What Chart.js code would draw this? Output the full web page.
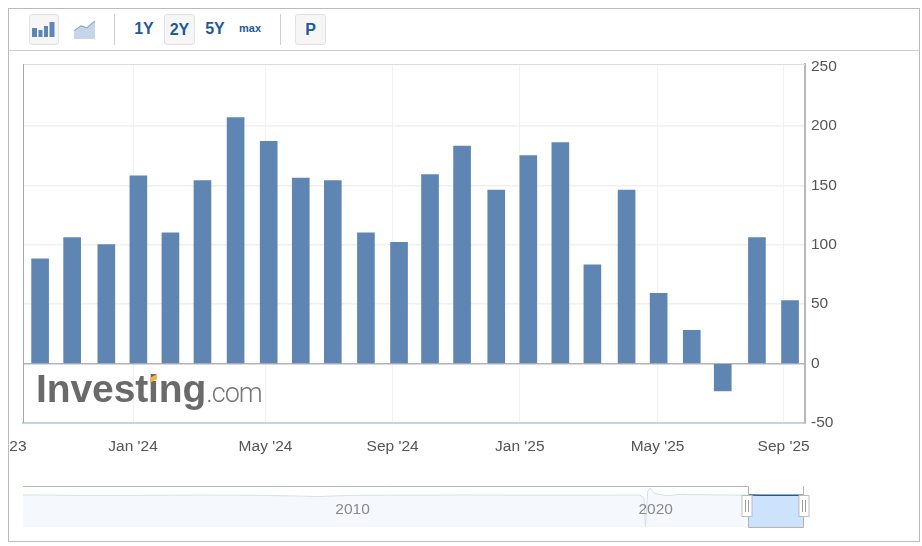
<!DOCTYPE html>
<html lang="en">
<head>
<meta charset="UTF-8">
<title>Investing.com bar chart</title>
<script src="https://cdn.jsdelivr.net/npm/chart.js"></script>
<style>
    html, body { margin: 0; padding: 0; background: #fff; overflow: hidden; }
    body { width: 922px; height: 546px; position: relative; font-family: "Liberation Sans", Arial, sans-serif; }
    #frame { position: absolute; left: 8px; top: 8px; width: 910px; height: 532px; border: 1px solid #bbb; box-sizing: content-box; }
    #toolbarLine { position: absolute; left: 9px; top: 50px; width: 910px; height: 1px; background: #ccc; }
    canvas { position: absolute; display: block; }
    #mainChart { left: 9px; top: 51px; }
    #navChart { left: 9px; top: 478px; }
    .btn { position: absolute; top: 14px; height: 31px; box-sizing: border-box; line-height: 29px; text-align: center; color: #1f5a96; font-weight: bold; font-size: 16px; }
    .on { background: #f6f6f6; border: 1px solid #e2e2e2; border-radius: 3px; }
    .sep { position: absolute; top: 14px; width: 1px; height: 31px; background: #cfcfcf; }
    svg { position: absolute; }
    #logo { position: absolute; left: 36px; top: 367px; white-space: nowrap; color: #6a6a6a; line-height: 50px; }
    #logo b { font: bold 39px "Liberation Sans", Arial, sans-serif; letter-spacing: -0.1px; }
    #logo span { font: 300 27px Roboto, sans-serif; letter-spacing: -1px; color: #767676; }
    #dot { position: absolute; left: 150px; top: 376px; width: 7px; height: 5px; background: #eeb54e; transform: skewY(-25deg); }
</style>
</head>
<body>
<div id="frame"></div>
<div id="toolbarLine"></div>

<div class="btn on" style="left:29px;width:30px"></div>
<svg style="left:32px;top:22px" width="24" height="15" fill="#5f86b3">
    <rect x="0" y="6" width="5" height="9"/><rect x="6.5" y="8" width="4" height="7"/>
    <rect x="12" y="4" width="4" height="11"/><rect x="17.5" y="0" width="5" height="15"/>
</svg>
<svg style="left:73px;top:20px" width="24" height="20">
    <path d="M1 12 L8 7 L14 9 L22 2 L22 19 L1 19 Z" fill="#c6d6e8"/>
    <path d="M1 11 L8 6 L14 8 L22 1" fill="none" stroke="#8fabc9" stroke-width="1.5"/>
</svg>
<div class="sep" style="left:114px"></div>
<div class="btn" style="left:129px;width:30px">1Y</div>
<div class="btn on" style="left:164px;width:31px">2Y</div>
<div class="btn" style="left:200px;width:30px">5Y</div>
<div class="btn" style="left:235px;width:30px;font-size:11px">max</div>
<div class="sep" style="left:280px"></div>
<div class="btn on" style="left:295px;width:31px">P</div>

<canvas id="mainChart" width="909" height="420"></canvas>
<canvas id="navChart" width="909" height="62"></canvas>
<div id="logo"><b>Investing</b><span>.com</span></div>
<div id="dot"></div>

<script>
    const barDates = ['2023-10-06', '2023-11-05', '2023-12-07', '2024-01-06', '2024-02-05', '2024-03-06',
        '2024-04-06', '2024-05-07', '2024-06-06', '2024-07-06', '2024-08-06', '2024-09-06',
        '2024-10-05', '2024-11-04', '2024-12-06', '2025-01-05', '2025-02-04', '2025-03-06',
        '2025-04-07', '2025-05-07', '2025-06-07', '2025-07-06', '2025-08-07', '2025-09-07'];
    const barValues = [88, 106, 100, 158, 110, 154, 207, 187, 156, 154, 110, 102,
        159, 183, 146, 175, 186, 83, 146, 59, 28, -23, 106, 53];

    const yTicks = [-50, 0, 50, 100, 150, 200, 250];
    const xTickDates = ['2023-08-30', '2024-01-01', '2024-05-04', '2024-08-31', '2024-12-28', '2025-05-06', '2025-09-01'];
    const xTickLabels = ["Sep '23", "Jan '24", "May '24", "Sep '24", "Jan '25", "May '25", "Sep '25"];

    // long history shown in the navigator strip
    const navYears = [1999.13, 2000, 2001, 2002, 2003, 2004, 2005, 2006, 2007, 2008, 2008.7, 2009.2, 2009.8,
        2010.5, 2011, 2012, 2013, 2014, 2015, 2016, 2017, 2018, 2019, 2020.1, 2020.25, 2020.3, 2020.38,
        2020.45, 2020.6, 2020.8, 2021, 2021.5, 2022, 2023, 2023.79];
    const navValues = [250, 230, -20, -40, 20, 150, 210, 170, 100, -220, -500, -750, -250,
        50, 130, 180, 190, 250, 220, 190, 180, 200, 170, 230, -1400, -20500, 2700,
        4800, 1400, 600, -200, 600, 500, 250, 180];
    const selYears = [2023.79, 2024.3, 2024.9, 2025.3, 2025.66];
    const selValues = [180, 170, 150, 100, 60];
    const navTickYears = [2009.76, 2020.07];
    const navTickLabels = ['2010', '2020'];

    Chart.defaults.font.family = '"Liberation Sans", Arial, sans-serif';
    Chart.defaults.animation = false;

    const toTime = d => Date.parse(d);

    // left and top edges of the plot, the library only gives the axis side
    const plotEdges = {
        id: 'plotEdges',
        beforeDatasetsDraw(chart) {
            const { ctx, chartArea: a } = chart;
            ctx.save();
            ctx.lineWidth = 1;
            ctx.strokeStyle = '#dcdcdc';
            ctx.beginPath();
            ctx.moveTo(a.left, a.top + 0.5);
            ctx.lineTo(a.right, a.top + 0.5);
            ctx.stroke();
            ctx.strokeStyle = '#a8a8a8';
            ctx.beginPath();
            ctx.moveTo(a.left + 0.5, a.top);
            ctx.lineTo(a.left + 0.5, a.bottom);
            ctx.stroke();
            ctx.restore();
        }
    };

    new Chart(document.getElementById('mainChart'), {
        type: 'bar',
        data: {
            datasets: [{
                data: barDates.map((d, i) => ({ x: toTime(d), y: barValues[i] })),
                backgroundColor: '#5f86b3',
                barThickness: 17
            }]
        },
        options: {
            responsive: false,
            layout: { padding: { left: 14, top: 13, right: 0, bottom: 0 } },
            plugins: { legend: { display: false }, tooltip: { enabled: false } },
            scales: {
                x: {
                    type: 'linear',
                    offset: false,
                    min: toTime('2023-09-20'),
                    max: toTime('2025-09-21'),
                    afterBuildTicks: axis => { axis.ticks = xTickDates.map(d => ({ value: toTime(d) })); },
                    afterFit: axis => { axis.height = 48; axis.paddingLeft = 0; axis.paddingRight = 0; },
                    grid: { offset: false, color: '#f2f2f2', tickLength: 0 },
                    border: { color: '#c8d3da', width: 2 },
                    ticks: {
                        autoSkip: false, maxRotation: 0, padding: 14, color: '#555', font: { size: 15.5 },
                        callback: (v, i) => xTickLabels[i]
                    }
                },
                y: {
                    position: 'right',
                    min: -50,
                    max: 252,
                    afterBuildTicks: axis => { axis.ticks = yTicks.map(v => ({ value: v })); },
                    afterFit: axis => { axis.width = 113; axis.paddingTop = 0; axis.paddingBottom = 0; },
                    grid: {
                        tickLength: 0,
                        lineWidth: 1.5,
                        color: c => {
                            if (!c.tick) return '#f0f0f0';
                            if (c.tick.value === 0) return '#b4b4b4';
                            return c.tick.value === 250 ? 'transparent' : '#f0f0f0';
                        }
                    },
                    border: { color: '#b8b8b8', width: 2 },
                    ticks: { padding: 6, color: '#555', font: { size: 15.5 } }
                }
            }
        },
        plugins: [plotEdges]
    });

    // selection box and drag handles of the navigator
    const navSelection = {
        id: 'navSelection',
        afterDraw(chart) {
            const { ctx, chartArea: a, scales } = chart;
            const x0 = Math.round(scales.x.getPixelForValue(selYears[0])) + 0.5;
            const x1 = Math.round(scales.x.getPixelForValue(selYears[selYears.length - 1])) + 0.5;
            const yLine = scales.y.getPixelForValue(selValues[0]);
            ctx.save();
            ctx.lineWidth = 1;
            ctx.strokeStyle = '#b4b4b4';
            ctx.beginPath();
            ctx.moveTo(a.left, a.top + 0.5);
            ctx.lineTo(x0, a.top + 0.5);
            ctx.lineTo(x0, a.bottom + 0.5);
            ctx.lineTo(x1, a.bottom + 0.5);
            ctx.lineTo(x1, yLine - 9);
            ctx.stroke();
            [x0 - 1.5, x1 + 0.5].forEach(cx => {
                ctx.fillStyle = '#fff';
                ctx.strokeStyle = '#bcbcbc';
                ctx.fillRect(cx - 5, a.top + 9.5, 10, 21);
                ctx.strokeRect(cx - 5, a.top + 9.5, 10, 21);
                ctx.strokeStyle = '#9a9a9a';
                ctx.beginPath();
                ctx.moveTo(cx - 1.5, a.top + 14);
                ctx.lineTo(cx - 1.5, a.top + 26);
                ctx.moveTo(cx + 1.5, a.top + 14);
                ctx.lineTo(cx + 1.5, a.top + 26);
                ctx.stroke();
            });
            ctx.restore();
        }
    };

    new Chart(document.getElementById('navChart'), {
        type: 'line',
        data: {
            datasets: [{
                data: navYears.map((y, i) => ({ x: y, y: navValues[i] })),
                borderColor: '#d5e0ec',
                borderWidth: 1,
                backgroundColor: '#f5f9fe',
                fill: 'start',
                pointRadius: 0,
                tension: 0
            }, {
                data: selYears.map((y, i) => ({ x: y, y: selValues[i] })),
                borderColor: '#1d5a96',
                borderWidth: 1.5,
                backgroundColor: '#cde2fb',
                fill: 'start',
                pointRadius: 0,
                tension: 0
            }]
        },
        options: {
            responsive: false,
            layout: { padding: { left: 14, top: 8, right: 115, bottom: 13 } },
            plugins: { legend: { display: false }, tooltip: { enabled: false } },
            scales: {
                x: {
                    type: 'linear',
                    min: 1999.13,
                    max: 2025.66,
                    afterBuildTicks: axis => { axis.ticks = navTickYears.map(v => ({ value: v })); },
                    afterFit: axis => { axis.height = 0; axis.paddingLeft = 0; axis.paddingRight = 0; },
                    grid: { display: false },
                    border: { display: false },
                    ticks: {
                        autoSkip: false, maxRotation: 0, mirror: true, padding: 8, labelOffset: 17, z: 1,
                        color: '#8a8a8a', font: { size: 15.5 },
                        callback: (v, i) => navTickLabels[i]
                    }
                },
                y: { display: false, min: -20500, max: 6100 }
            }
        },
        plugins: [navSelection]
    });
</script>
</body>
</html>
